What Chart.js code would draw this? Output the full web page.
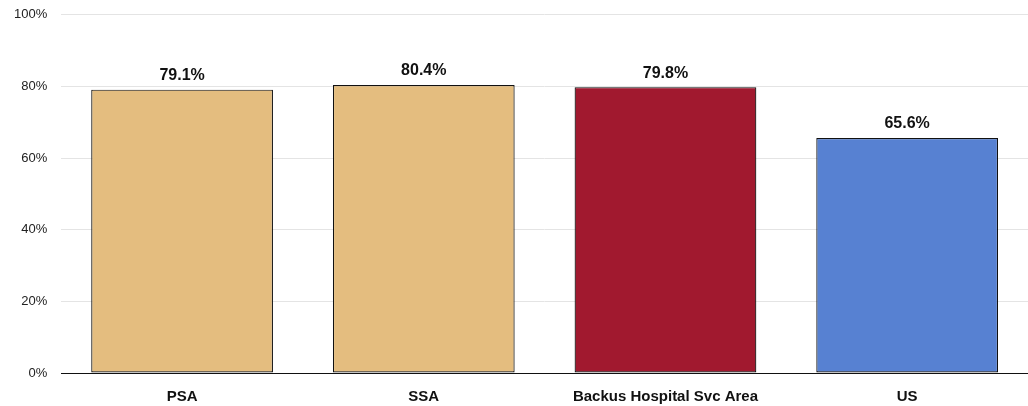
<!DOCTYPE html>
<html>
<head>
<meta charset="utf-8">
<script src="https://cdn.jsdelivr.net/npm/chart.js@4"></script>
<style>
  html, body { margin: 0; padding: 0; background: #fff; overflow: hidden; }
  #wrap { width: 1028px; height: 415px; position: relative; top: -7px; }
</style>
</head>
<body>
<div id="wrap"><canvas id="c"></canvas></div>
<script>
const categories = ["PSA", "SSA", "Backus Hospital Svc Area", "US"];
const values = [79.1, 80.4, 79.8, 65.6];
const barColors = ["#E4BD7F", "#E4BD7F", "#A1192F", "#5781D2"];
const FONT = "'Liberation Sans Narrow', 'Arial Narrow', 'Liberation Sans', Arial, sans-serif";

// draws the value above each bar
const valueLabels = {
  id: "valueLabels",
  afterDatasetsDraw(chart) {
    const ctx = chart.ctx;
    const meta = chart.getDatasetMeta(0);
    ctx.save();
    ctx.font = "bold 16px " + FONT;
    ctx.fillStyle = "#111";
    ctx.textAlign = "center";
    ctx.textBaseline = "bottom";
    meta.data.forEach((bar, i) => {
      ctx.fillText(values[i].toFixed(1) + "%", bar.x, bar.y - 6);
    });
    ctx.restore();
  }
};

new Chart(document.getElementById("c"), {
  type: "bar",
  data: {
    labels: categories,
    datasets: [
      {
        data: values,
        backgroundColor: barColors,
        borderColor: "#111",
        borderWidth: 1.2,
        borderSkipped: false,
        categoryPercentage: 0.752,
        barPercentage: 1.0,
      },
    ],
  },
  options: {
    responsive: true,
    maintainAspectRatio: false,
    animation: false,
    layout: { padding: { top: 0, right: 0, left: 0, bottom: -13 } },
    plugins: {
      legend: { display: false },
      tooltip: { enabled: false },
    },
    scales: {
      x: {
        grid: { display: false, drawTicks: false },
        border: { color: "#111", width: 1 },
        ticks: {
          color: "#111",
          padding: 15,
          font: { family: FONT, size: 15, weight: "bold" },
        },
      },
      y: {
        min: 0,
        max: 100,
        grid: { color: "#e4e4e4", drawTicks: false },
        border: { display: false },
        ticks: {
          stepSize: 20,
          color: "#222",
          padding: 14,
          font: { family: FONT, size: 13 },
          callback: (v) => v + "%",
        },
      },
    },
  },
  plugins: [valueLabels],
});
</script>
</body>
</html>
